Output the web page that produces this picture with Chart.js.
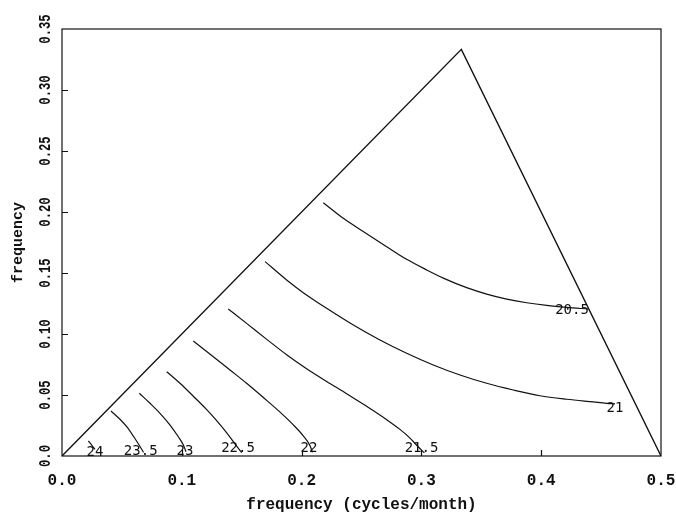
<!DOCTYPE html>
<html>
<head>
<meta charset="utf-8">
<script src="https://cdn.jsdelivr.net/npm/chart.js@4/dist/chart.umd.min.js"></script>
<style>
  html, body { margin: 0; padding: 0; background: #fff; }
  #wrap { width: 676px; height: 516px; }
</style>
</head>
<body>
<div id="wrap"><canvas id="c"></canvas></div>
<script>
// Axis ticks and their printed labels
const xTicks = [0, 0.1, 0.2, 0.3, 0.4, 0.5];
const xTickLabels = ['0.0', '0.1', '0.2', '0.3', '0.4', '0.5'];
const yTicks = [0, 0.05, 0.10, 0.15, 0.20, 0.25, 0.30, 0.35];
const yTickLabels = ['0.0', '0.05', '0.10', '0.15', '0.20', '0.25', '0.30', '0.35'];

// Principal domain of the bispectrum (triangle outline)
const domainX = [0, 1 / 3, 0.5];
const domainY = [0, 1 / 3, 0];

// Contour levels
const levels = ['24', '23.5', '23', '22.5', '22', '21.5', '21', '20.5'];

// Contour paths (frequency pairs)
const c24x = [0.0220, 0.0248, 0.0275];
const c24y = [0.0123, 0.0090, 0.0055];

const c235x = [0.0409, 0.0484, 0.0540, 0.0595, 0.0637, 0.0665, 0.0680];
const c235y = [0.0369, 0.0301, 0.0240, 0.0164, 0.0100, 0.0055, 0.0030];

const c23x = [0.0646, 0.0735, 0.0818, 0.0902, 0.0971, 0.1013, 0.1035];
const c23y = [0.0514, 0.0432, 0.0350, 0.0254, 0.0158, 0.0090, 0.0035];

const c225x = [0.0874, 0.0985, 0.1096, 0.1208, 0.1291, 0.1375, 0.1444, 0.1500];
const c225y = [0.0691, 0.0596, 0.0490, 0.0380, 0.0290, 0.0190, 0.0100, 0.0027];

const c22x = [0.1096, 0.1263, 0.1402, 0.1541, 0.1680, 0.1820, 0.1931, 0.2014, 0.2070, 0.2090];
const c22y = [0.0943, 0.0814, 0.0705, 0.0596, 0.0480, 0.0360, 0.0255, 0.0165, 0.0085, 0.0030];

const c215x = [0.1388, 0.1541, 0.1709, 0.1875, 0.2042, 0.2209, 0.2376, 0.2543, 0.2710, 0.2821, 0.2905, 0.2961, 0.3025];
const c215y = [0.1205, 0.1087, 0.0956, 0.0830, 0.0715, 0.0611, 0.0511, 0.0407, 0.0298, 0.0218, 0.0147, 0.0088, 0.0025];

const c21x = [0.1695, 0.1875, 0.2014, 0.2209, 0.2432, 0.2654, 0.2877, 0.3099, 0.3322, 0.3545, 0.3767, 0.3990, 0.4213, 0.4435, 0.4546, 0.4616];
const c21y = [0.1593, 0.1443, 0.1339, 0.1211, 0.1074, 0.0951, 0.0842, 0.0746, 0.0664, 0.0596, 0.0541, 0.0494, 0.0465, 0.0443, 0.0432, 0.0427];

const c205x = [0.2181, 0.2348, 0.2543, 0.2710, 0.2877, 0.3044, 0.3183, 0.3378, 0.3545, 0.3712, 0.3879, 0.4046, 0.4213, 0.4393];
const c205y = [0.2076, 0.1948, 0.1822, 0.1716, 0.1612, 0.1525, 0.1458, 0.1380, 0.1327, 0.1286, 0.1256, 0.1234, 0.1218, 0.1205];

// Where each level's label sits
const labelX = [0.0275, 0.0657, 0.1027, 0.1469, 0.2062, 0.3001, 0.4616, 0.4257];
const labelY = [0.0033, 0.0041, 0.0037, 0.0066, 0.0066, 0.0066, 0.0393, 0.1197];

const contourXs = [c24x, c235x, c23x, c225x, c22x, c215x, c21x, c205x];
const contourYs = [c24y, c235y, c23y, c225y, c22y, c215y, c21y, c205y];

const pairs = (xs, ys) => xs.map((x, i) => ({ x, y: ys[i] }));
const INK = '#111';

const datasets = [{
  label: 'domain',
  data: pairs(domainX, domainY),
  showLine: true, borderColor: INK, borderWidth: 1.4,
  pointRadius: 0, tension: 0
}];
levels.forEach((lv, i) => {
  datasets.push({
    label: lv,
    data: pairs(contourXs[i], contourYs[i]),
    showLine: true, borderColor: INK, borderWidth: 1.2,
    pointRadius: 0, cubicInterpolationMode: 'monotone'
  });
});

function drawText(ctx, text, x, y, rot, font, along, align, baseline) {
  ctx.save();
  ctx.translate(x, y);
  ctx.rotate(rot);
  ctx.scale(along, 1);
  ctx.font = font;
  ctx.textAlign = align;
  ctx.textBaseline = baseline;
  ctx.fillStyle = INK;
  ctx.fillText(text, 0, 0);
  ctx.restore();
}

const decorations = {
  id: 'decorations',
  afterDraw(chart) {
    const { ctx, chartArea: a, scales: { x, y } } = chart;
    ctx.save();
    // plot frame
    ctx.strokeStyle = INK;
    ctx.lineWidth = 1.2;
    ctx.strokeRect(a.left, a.top, a.right - a.left, a.bottom - a.top);
    // inward tick marks
    ctx.beginPath();
    xTicks.slice(1, -1).forEach(v => {
      const px = Math.round(x.getPixelForValue(v)) + 0.5;
      ctx.moveTo(px, a.bottom); ctx.lineTo(px, a.bottom - 6);
    });
    yTicks.slice(1, -1).forEach(v => {
      const py = Math.round(y.getPixelForValue(v)) + 0.5;
      ctx.moveTo(a.left, py); ctx.lineTo(a.left + 6, py);
    });
    ctx.stroke();
    ctx.restore();

    const tickFont = 'bold 16px "Liberation Mono", monospace';
    xTicks.forEach((v, i) => {
      drawText(ctx, xTickLabels[i], x.getPixelForValue(v), 485, 0, tickFont, 1, 'center', 'alphabetic');
    });
    yTicks.forEach((v, i) => {
      drawText(ctx, yTickLabels[i], 50, y.getPixelForValue(v), -Math.PI / 2, 'bold 17px "Liberation Mono", monospace', 0.72, 'center', 'alphabetic');
    });

    // axis titles
    drawText(ctx, 'frequency (cycles/month)', (a.left + a.right) / 2, 509, 0, 'bold 16px "Liberation Mono", monospace', 1, 'center', 'alphabetic');
    drawText(ctx, 'frequency', 22, (a.top + a.bottom) / 2, -Math.PI / 2, 'bold 15px "Liberation Mono", monospace', 1, 'center', 'alphabetic');

    // contour level labels
    levels.forEach((lv, i) => {
      drawText(ctx, lv, x.getPixelForValue(labelX[i]), y.getPixelForValue(labelY[i]), 0, '14px "DejaVu Sans Mono", monospace', 1, 'center', 'middle');
    });
  }
};

new Chart(document.getElementById('c'), {
  type: 'scatter',
  data: { datasets },
  options: {
    responsive: true,
    maintainAspectRatio: false,
    animation: false,
    events: [],
    layout: { padding: { top: 29, right: 15, left: 0, bottom: 0 } },
    plugins: { legend: { display: false }, tooltip: { enabled: false } },
    scales: {
      x: {
        type: 'linear', min: 0, max: 0.5,
        ticks: { display: false, stepSize: 0.1 },
        grid: { display: false }, border: { display: false },
        afterFit: s => { s.height = 60; }
      },
      y: {
        type: 'linear', min: 0, max: 0.35,
        ticks: { display: false, stepSize: 0.05 },
        grid: { display: false }, border: { display: false },
        afterFit: s => { s.width = 62; }
      }
    }
  },
  plugins: [decorations]
});
</script>
</body>
</html>
